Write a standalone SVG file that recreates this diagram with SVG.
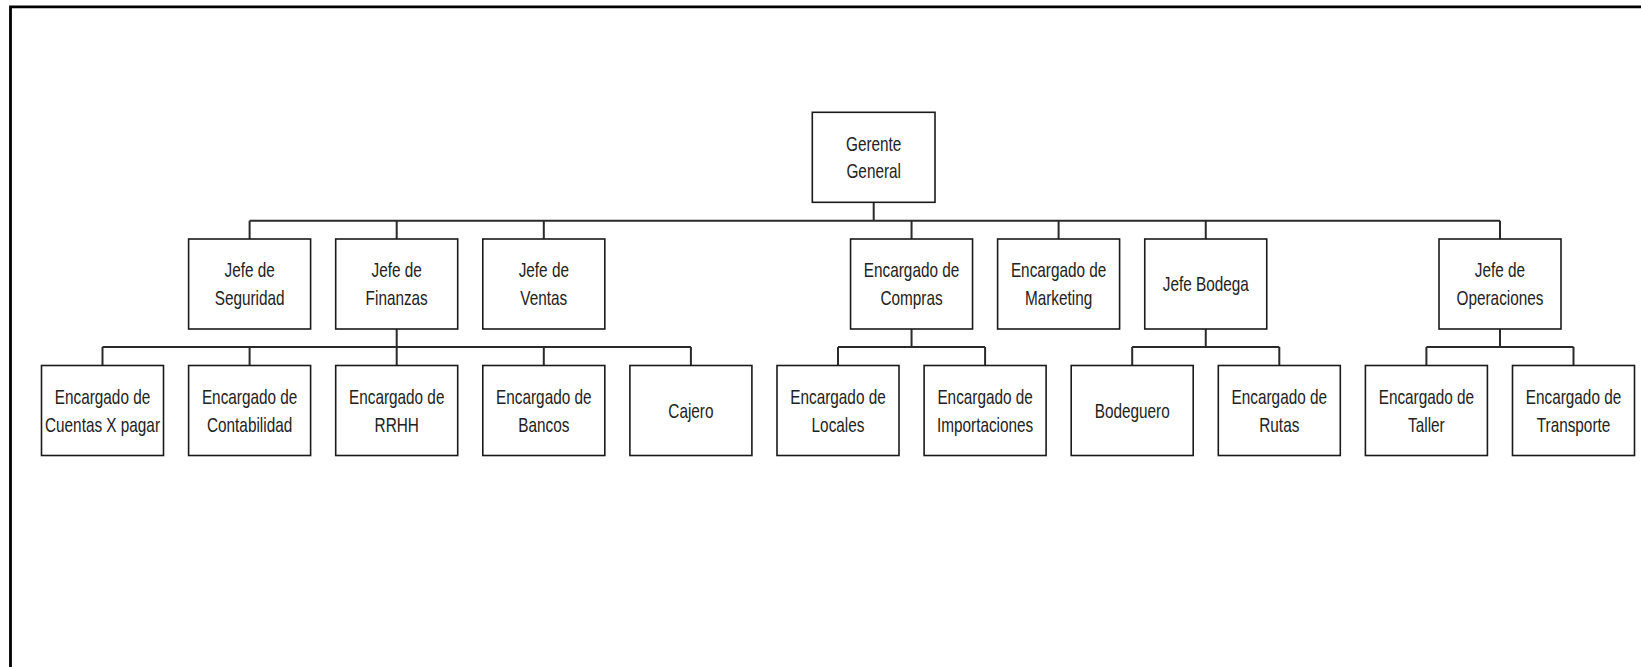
<svg xmlns="http://www.w3.org/2000/svg" width="1641" height="667" viewBox="0 0 1641 667">
<style>
.box{fill:#fff;stroke:#1a1a1a;stroke-width:1.6}
.t{font-family:"Liberation Sans",Arial,sans-serif;font-size:21px;fill:#222;text-anchor:middle}
.c{fill:none;stroke:#2a2a2a;stroke-width:2}
</style>
<rect width="1641" height="667" fill="#fff"/>
<path d="M10.5,667 V6.8 H1641" fill="none" stroke="#000" stroke-width="2.8"/>
<g id="connectors">
<path class="c" d="M873.7,202.3 V220.7 M249.6,220.7 H1500 M249.6,220.7 V239 M396.7,220.7 V239 M543.8,220.7 V239 M911.55,220.7 V239 M1058.6,220.7 V239 M1205.75,220.7 V239 M1500,220.7 V239"/>
<path class="c" d="M396.7,329 V347 M102.5,347 H690.9 M102.5,347 V365.5 M249.6,347 V365.5 M396.7,347 V365.5 M543.8,347 V365.5 M690.9,347 V365.5"/>
<path class="c" d="M911.55,329 V347 M838,347 H985.1 M838,347 V365.5 M985.1,347 V365.5"/>
<path class="c" d="M1205.75,329 V347 M1132.2,347 H1279.3 M1132.2,347 V365.5 M1279.3,347 V365.5"/>
<path class="c" d="M1500,329 V347 M1426.4,347 H1573.5 M1426.4,347 V365.5 M1573.5,347 V365.5"/>
</g>
<g id="gerente-general"><rect class="box" x="812.3" y="112.3" width="122.7" height="90"/>
<text class="t" transform="translate(873.7,150.5) scale(0.73,1)">Gerente</text>
<text class="t" transform="translate(873.7,178) scale(0.73,1)">General</text></g>
<g id="jefe-seguridad"><rect class="box" x="188.6" y="239" width="122" height="90"/>
<text class="t" transform="translate(249.6,277.2) scale(0.73,1)">Jefe de</text>
<text class="t" transform="translate(249.6,304.7) scale(0.73,1)">Seguridad</text></g>
<g id="jefe-finanzas"><rect class="box" x="335.7" y="239" width="122" height="90"/>
<text class="t" transform="translate(396.7,277.2) scale(0.73,1)">Jefe de</text>
<text class="t" transform="translate(396.7,304.7) scale(0.73,1)">Finanzas</text></g>
<g id="jefe-ventas"><rect class="box" x="482.8" y="239" width="122" height="90"/>
<text class="t" transform="translate(543.8,277.2) scale(0.73,1)">Jefe de</text>
<text class="t" transform="translate(543.8,304.7) scale(0.73,1)">Ventas</text></g>
<g id="encargado-compras"><rect class="box" x="850.55" y="239" width="122" height="90"/>
<text class="t" transform="translate(911.55,277.2) scale(0.73,1)">Encargado de</text>
<text class="t" transform="translate(911.55,304.7) scale(0.73,1)">Compras</text></g>
<g id="encargado-marketing"><rect class="box" x="997.6" y="239" width="122" height="90"/>
<text class="t" transform="translate(1058.6,277.2) scale(0.73,1)">Encargado de</text>
<text class="t" transform="translate(1058.6,304.7) scale(0.73,1)">Marketing</text></g>
<g id="jefe-bodega"><rect class="box" x="1144.75" y="239" width="122" height="90"/>
<text class="t" transform="translate(1205.75,291) scale(0.73,1)">Jefe Bodega</text></g>
<g id="jefe-operaciones"><rect class="box" x="1439" y="239" width="122" height="90"/>
<text class="t" transform="translate(1500,277.2) scale(0.73,1)">Jefe de</text>
<text class="t" transform="translate(1500,304.7) scale(0.73,1)">Operaciones</text></g>
<g id="cuentas-pagar"><rect class="box" x="41.5" y="365.5" width="122" height="90"/>
<text class="t" transform="translate(102.5,403.8) scale(0.73,1)">Encargado de</text>
<text class="t" transform="translate(102.5,431.5) scale(0.73,1)">Cuentas X pagar</text></g>
<g id="contabilidad"><rect class="box" x="188.6" y="365.5" width="122" height="90"/>
<text class="t" transform="translate(249.6,403.8) scale(0.73,1)">Encargado de</text>
<text class="t" transform="translate(249.6,431.5) scale(0.73,1)">Contabilidad</text></g>
<g id="rrhh"><rect class="box" x="335.7" y="365.5" width="122" height="90"/>
<text class="t" transform="translate(396.7,403.8) scale(0.73,1)">Encargado de</text>
<text class="t" transform="translate(396.7,431.5) scale(0.73,1)">RRHH</text></g>
<g id="bancos"><rect class="box" x="482.8" y="365.5" width="122" height="90"/>
<text class="t" transform="translate(543.8,403.8) scale(0.73,1)">Encargado de</text>
<text class="t" transform="translate(543.8,431.5) scale(0.73,1)">Bancos</text></g>
<g id="cajero"><rect class="box" x="629.9" y="365.5" width="122" height="90"/>
<text class="t" transform="translate(690.9,417.5) scale(0.73,1)">Cajero</text></g>
<g id="locales"><rect class="box" x="777" y="365.5" width="122" height="90"/>
<text class="t" transform="translate(838,403.8) scale(0.73,1)">Encargado de</text>
<text class="t" transform="translate(838,431.5) scale(0.73,1)">Locales</text></g>
<g id="importaciones"><rect class="box" x="924.1" y="365.5" width="122" height="90"/>
<text class="t" transform="translate(985.1,403.8) scale(0.73,1)">Encargado de</text>
<text class="t" transform="translate(985.1,431.5) scale(0.73,1)">Importaciones</text></g>
<g id="bodeguero"><rect class="box" x="1071.2" y="365.5" width="122" height="90"/>
<text class="t" transform="translate(1132.2,417.5) scale(0.73,1)">Bodeguero</text></g>
<g id="rutas"><rect class="box" x="1218.3" y="365.5" width="122" height="90"/>
<text class="t" transform="translate(1279.3,403.8) scale(0.73,1)">Encargado de</text>
<text class="t" transform="translate(1279.3,431.5) scale(0.73,1)">Rutas</text></g>
<g id="taller"><rect class="box" x="1365.4" y="365.5" width="122" height="90"/>
<text class="t" transform="translate(1426.4,403.8) scale(0.73,1)">Encargado de</text>
<text class="t" transform="translate(1426.4,431.5) scale(0.73,1)">Taller</text></g>
<g id="transporte"><rect class="box" x="1512.5" y="365.5" width="122" height="90"/>
<text class="t" transform="translate(1573.5,403.8) scale(0.73,1)">Encargado de</text>
<text class="t" transform="translate(1573.5,431.5) scale(0.73,1)">Transporte</text></g>
</svg>
